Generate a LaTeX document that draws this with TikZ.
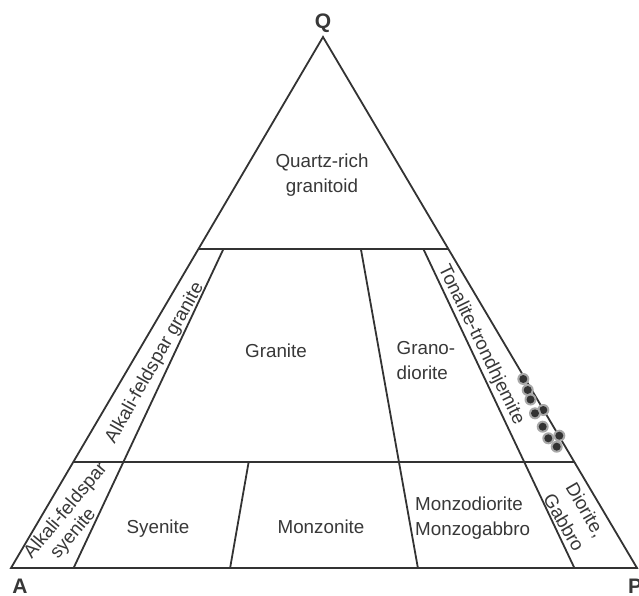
\documentclass[tikz,border=0pt]{standalone}
\usepackage{fontspec}
\setmainfont{Liberation Sans}
\usetikzlibrary{calc}
\definecolor{lc}{HTML}{333333}
\definecolor{tc}{HTML}{383838}
\definecolor{dc}{HTML}{333333}
\definecolor{hc}{HTML}{A8A8A8}
\begin{document}
\begin{tikzpicture}[x=1pt,y=-1pt,
  edge/.style={draw=lc, line width=1.8pt, line join=miter},
  lbl/.style={text=tc, font=\fontsize{18.8}{25}\selectfont, inner sep=0pt},
  corner/.style={text=tc, font=\fontsize{21}{24}\selectfont\bfseries, inner sep=0pt},
  halo/.style={fill=hc},
  dotp/.style={fill=dc}]
\useasboundingbox (0,0) rectangle (639,596);
\fill[white] (0,0) rectangle (639,596);
% vertices
\coordinate (Qv) at (323,37);
\coordinate (Av) at (11,568);
\coordinate (Pv) at (637,568);
% base points of the division lines
\coordinate (B10) at ($(Av)!0.10!(Pv)$);
\coordinate (B35) at ($(Av)!0.35!(Pv)$);
\coordinate (B65) at ($(Av)!0.65!(Pv)$);
\coordinate (B90) at ($(Av)!0.90!(Pv)$);
% horizontal levels
\coordinate (L60) at ($(Qv)!0.4!(Av)$);
\coordinate (R60) at ($(Qv)!0.4!(Pv)$);
\coordinate (L20) at ($(Qv)!0.8!(Av)$);
\coordinate (R20) at ($(Qv)!0.8!(Pv)$);
% top ends of division lines
\coordinate (T10) at ($(Qv)!0.4!(B10)$);
\coordinate (T35) at ($(Qv)!0.8!(B35)$);
\coordinate (T65) at ($(Qv)!0.4!(B65)$);
\coordinate (T90) at ($(Qv)!0.4!(B90)$);

\draw[edge] (Qv) -- (Av) -- (Pv) -- cycle;
\draw[edge] (L60) -- (R60);
\draw[edge] (L20) -- (R20);
\draw[edge] (T10) -- (B10);
\draw[edge] (T35) -- (B35);
\draw[edge] (T65) -- (B65);
\draw[edge] (T90) -- (B90);

% data points
\foreach \px/\py [count=\i] in {523.3/379,527.7/390,530.5/399.5,543.3/410,535/413.3,542.7/426.7,559.3/435.7,548.3/438.3,556.7/446.7}{
  \fill[halo] (\px,\py) circle (6);
  \fill[dotp] (\px,\py) circle (4);
}

% labels
\node[lbl, align=center] (qr) at (322,175) {Quartz-rich\\granitoid};
\node[lbl, anchor=base] (gr) at (276,357) {Granite};
\node[lbl, align=left, anchor=west] (gd) at (396.5,361) {Grano-\\diorite};
\node[lbl, rotate=60.5] (afg) at (155,363) {Alkali-feldspar granite};
\node[lbl, rotate=-64] (tt) at (481,345) {Tonalite-trondhjemite};
\node[lbl, rotate=50] (afs1) at (66,511) {Alkali-feldspar};
\node[lbl, rotate=50] (afs2) at (73.5,534) {syenite};
\node[lbl, anchor=base] (sy) at (158,533) {Syenite};
\node[lbl, anchor=base] (mz) at (321,533) {Monzonite};
\node[lbl, align=left, anchor=west] (md) at (415,518) {Monzodiorite\\Monzogabbro};
\node[lbl, rotate=-60, align=center] (dg) at (575,516) {Diorite,\\Gabbro};
\node[corner] (qlab) at (323,23) {Q};
\node[corner] (alab) at (20,586) {A};
\node[corner] (plab) at (635,586) {P};
\end{tikzpicture}
\end{document}
